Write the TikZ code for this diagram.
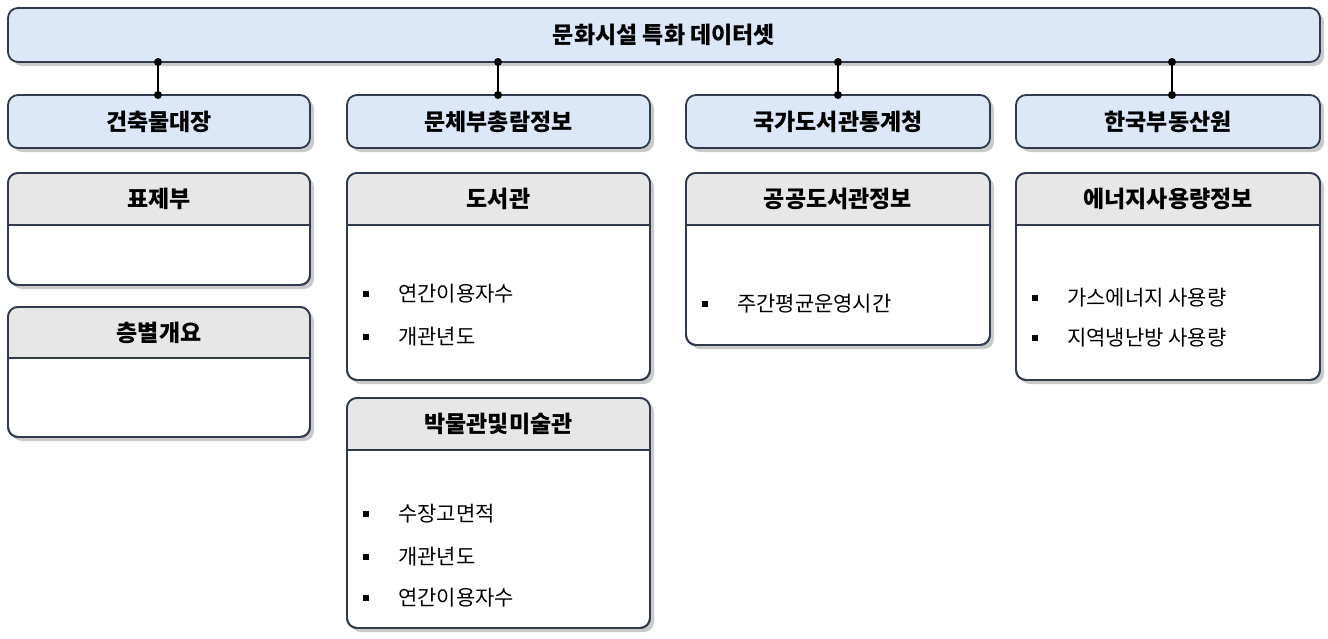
\documentclass[tikz,border=0pt]{standalone}
\usepackage{fontspec}
\setmainfont{Noto Sans CJK KR}
\usetikzlibrary{shadows}
\definecolor{bluef}{HTML}{DCE7F7}
\definecolor{grayf}{HTML}{E7E7E7}
\definecolor{bord}{HTML}{2F3B4C}
\tikzset{
  sh/.style={drop shadow={shadow xshift=2pt,shadow yshift=-2pt,opacity=.35,fill=black!60}},
  bluebox/.style={draw=bord,line width=0.9pt,fill=bluef,rounded corners=5pt,sh},
  card/.style={draw=bord,line width=0.9pt,fill=white,rounded corners=5pt,sh},
  ttl/.style={font=\bfseries\fontsize{11.5}{13}\selectfont,text=black},
  itm/.style={font=\fontsize{10.5}{12}\selectfont,anchor=west,text=black},
  conn/.style={line width=1.2pt,black},
  dot/.style={circle,fill=black,inner sep=0pt,minimum size=4pt}
}
\newcommand{\card}[8]{% name, x1, x2, y1, yh, y2, title
  \fill[card] (#2,#4) rectangle (#3,#6);
  \begin{scope}
    \clip[rounded corners=5pt] (#2,#4) rectangle (#3,#6);
    \fill[grayf] (#2,#4) rectangle (#3,#5);
  \end{scope}
  \draw[bord,line width=0.9pt] (#2,#5) -- (#3,#5);
  \draw[bord,line width=0.9pt,rounded corners=5pt] (#2,#4) rectangle (#3,#6);
  \node[ttl] (#1) at ({(#2+#3)/2},{(#4+#5)/2}) {#7};
}
\newcommand{\itemrow}[4]{% name, x, y, text
  \fill[black] (#2+16,#3-3) rectangle (#2+22,#3+3);
  \node[itm] (#1) at (#2+44,#3) {#4};
}
\begin{document}
\begin{tikzpicture}[x=0.5pt,y=-0.5pt]
\useasboundingbox (0,0) rectangle (1328,638);
\node[bluebox,minimum width=656pt,minimum height=27pt,ttl] (top) at (664,35) {문화시설 특화 데이터셋};
\foreach \n/\x/\l/\t in {h1/8/310/건축물대장,h2/347/650/문체부총람정보,h3/686/990/국가도서관통계청,h4/1016/1320/한국부동산원}{
  \node[bluebox,minimum width={(\l-\x)*0.5pt},minimum height=26.5pt,ttl] (\n) at ({(\x+\l)/2},121.5) {\t};
}
\foreach \n/\x in {h1/158,h2/498,h3/838,h4/1172}{
  \coordinate (a\n) at (\x,62);
  \coordinate (b\n) at (\x,95);
  \draw[conn] (a\n) -- (b\n);
  \node[dot] at (a\n) {};
  \node[dot] at (b\n) {};
}
\card{c1}{8}{310}{173}{225}{285}{표제부}
\itemrow{i11}{8}{250}{용적률산정연면적}
\card{c2}{8}{310}{307}{358}{437}{층별개요}
\itemrow{i21}{8}{385}{주용도 혼합 비율}
\card{c3}{347}{650}{173}{225}{380}{도서관}
\itemrow{i31}{347}{250}{열람석수}
\itemrow{i32}{347}{294}{연간이용자수}
\itemrow{i33}{347}{337}{개관년도}
\card{c4}{347}{650}{398}{450}{628}{박물관및미술관}
\itemrow{i41}{347}{470}{전시실면적}
\itemrow{i42}{347}{514}{수장고면적}
\itemrow{i43}{347}{557}{개관년도}
\itemrow{i44}{347}{598}{연간이용자수}
\card{c5}{686}{990}{173}{225}{345}{공공도서관정보}
\itemrow{i51}{686}{264}{운영일수}
\itemrow{i52}{686}{304}{주간평균운영시간}
\card{c6}{1016}{1320}{173}{225}{380}{에너지사용량정보}
\itemrow{i61}{1016}{258}{에너지사용량}
\itemrow{i62}{1016}{298}{가스에너지 사용량}
\itemrow{i63}{1016}{338}{지역냉난방 사용량}
\end{tikzpicture}
\end{document}
